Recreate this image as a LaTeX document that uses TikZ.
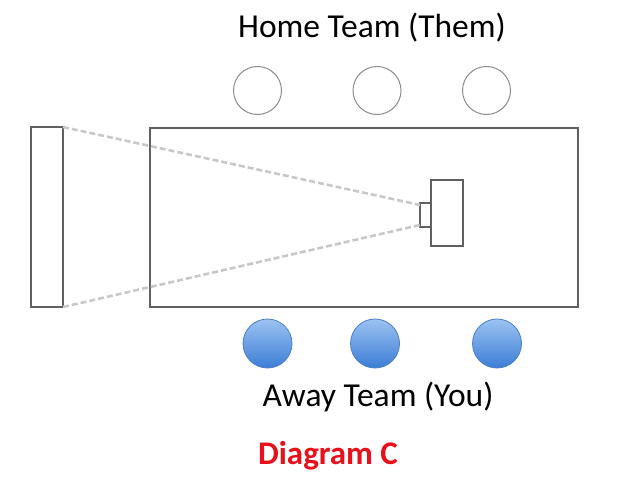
\documentclass[tikz,border=0pt]{standalone}
\usepackage{fontspec}
\setmainfont{Carlito}
\usepackage{tikz}
\usetikzlibrary{positioning,calc}
\definecolor{rectgray}{HTML}{606060}
\definecolor{beamgray}{HTML}{C8C8C8}
\definecolor{awaytop}{HTML}{9CC3F2}
\definecolor{awaybot}{HTML}{3C7DD6}
\definecolor{awayline}{HTML}{4A80C8}
\definecolor{diagred}{HTML}{E8101A}
\tikzset{
  wall/.style={draw=rectgray,line width=1.8pt},
  beam/.style={draw=beamgray,line width=2.6pt,dash pattern=on 6pt off 3pt},
  home/.style={circle,draw=gray!90,line width=1pt,fill=white,minimum size=48pt,inner sep=0pt},
  away/.style={circle,draw=awayline,line width=0.8pt,top color=awaytop,bottom color=awaybot,minimum size=49pt,inner sep=0pt},
  teamlabel/.style={font=\fontsize{33.5}{40}\selectfont}
}

\begin{document}
\begin{tikzpicture}[x=1pt,y=-1pt]
\useasboundingbox (0,0) rectangle (628,484);
% table and screen
\draw[wall] (150,128) rectangle (578,307);
\draw[wall] (31,127) rectangle (63,307);
\coordinate (scrtop) at (63,127);
\coordinate (scrbot) at (63,307);
% projector
\draw[wall] (431,180) rectangle (463,246);
\draw[wall] (420,203) rectangle (431,227);
\coordinate (lenstop) at (420,205);
\coordinate (lensbot) at (420,225);
\draw[beam] (scrtop) -- (lenstop);
\draw[beam] (scrbot) -- (lensbot);
% home team
\node[home] (h1) at (257.5,90.5) {};
\node[home] (h2) at (377,90.5) {};
\node[home] (h3) at (486.5,90.5) {};
\node[teamlabel] (homelbl) at (372,28) {Home Team (Them)};
% away team
\node[away] (a1) at (267.5,343.5) {};
\node[away] (a2) at (375,343.5) {};
\node[away] (a3) at (497,343.5) {};
\node[teamlabel] (awaylbl) at (378,397) {Away Team (You)};
\node[font=\fontsize{33}{40}\selectfont\bfseries,text=diagred] (diag) at (328,456) {Diagram C};
\end{tikzpicture}
\end{document}
